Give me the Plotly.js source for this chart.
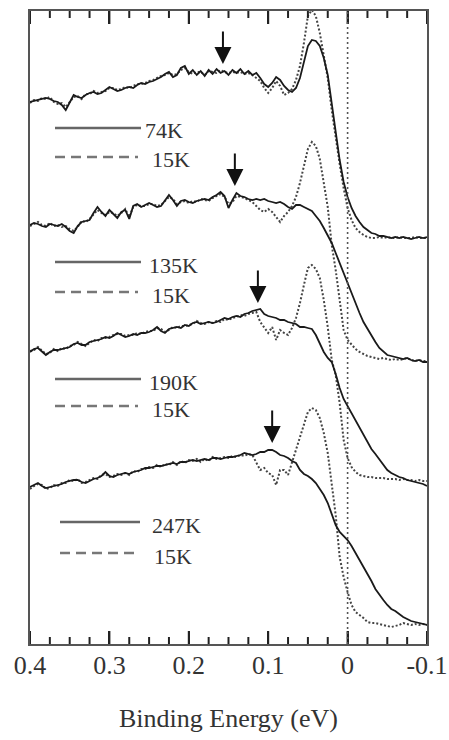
<!DOCTYPE html>
<html>
<head>
<meta charset="utf-8">
<script src="https://cdn.plot.ly/plotly-3.0.1.min.js"></script>
<style>html,body{margin:0;padding:0;background:#fff;}#chart{width:449px;height:740px;}</style>
</head>
<body>
<div id="chart"></div>
<script>
// ---- data ----
const energies = [0.4,0.395,0.39,0.385,0.38,0.375,0.37,0.365,0.36,0.355,0.35,
0.345,0.34,0.335,0.33,0.325,0.32,0.315,0.31,0.305,0.3,
0.295,0.29,0.285,0.28,0.275,0.27,0.265,0.26,0.255,0.25,
0.245,0.24,0.235,0.23,0.225,0.22,0.215,0.21,0.205,0.2,
0.195,0.19,0.185,0.18,0.175,0.17,0.165,0.16,0.155,0.15,
0.145,0.14,0.135,0.13,0.125,0.12,0.115,0.11,0.105,0.1,
0.095,0.09,0.085,0.08,0.075,0.07,0.065,0.06,0.055,0.05,
0.045,0.04,0.035,0.03,0.025,0.02,0.015,0.01,0.005,0,
-0.005,-0.01,-0.015,-0.02,-0.025,-0.03,-0.035,-0.04,-0.045,-0.05,
-0.055,-0.06,-0.065,-0.07,-0.075,-0.08,-0.085,-0.09,-0.095,-0.1];

const hotLabels = ['74K','135K','190K','247K'];
const coldLabel = '15K';
const offsets = [406, 282, 159, 19];
const arrowE = [0.157, 0.142, 0.113, 0.095];
const fermiE = 0;

const hot74 = [136,137,138,139,140,139,137,136,133,128,135,
143,141,140,143,145,146,144,145,148,151,
149,147,148,150,151,150,153,155,154,156,
157,159,161,164,166,161,163,170,172,164,
168,163,167,162,168,164,169,165,167,163,
168,165,169,164,167,163,165,160,154,151,
155,161,158,152,148,146,150,160,176,192,
198,197,192,180,163,133,103,78,56,41,
30,22,16,11,8,5,4,2,2,1,
0,1,0,1,0,-1,0,1,0,1];
const cold74 = [135,138,137,140,139,141,136,134,135,131,136,
141,142,139,144,144,147,145,146,147,150,
150,148,149,151,150,152,154,154,155,157,
158,160,162,163,165,163,164,168,170,166,
164,166,166,163,167,166,165,168,166,165,
166,165,166,164,165,163,160,157,150,145,
150,157,152,143,145,149,158,172,195,222,
228,222,205,183,160,128,100,74,50,30,
18,10,6,3,1,0,0,1,0,1,
0,0,1,0,0,0,1,0,0,0];

const hot135 = [137,139,138,136,135,138,137,136,138,135,131,
129,136,140,141,142,149,155,150,146,152,
148,144,150,152,143,156,158,155,157,159,
157,155,156,162,167,162,156,161,162,160,
159,161,162,163,162,165,167,170,166,154,
162,169,166,165,163,162,163,162,163,161,
160,159,160,158,155,153,157,157,155,153,
151,146,141,134,126,119,109,99,87,78,
67,58,49,40,33,27,20,14,10,7,
6,5,4,3,4,2,1,2,0,0];
const cold135 = [136,138,140,137,136,139,136,137,135,136,133,
131,135,141,140,143,147,152,149,147,150,
149,146,149,153,145,155,157,156,156,158,
158,156,157,161,165,163,158,160,161,159,
161,160,163,162,161,164,166,168,165,158,
160,166,165,164,162,160,156,152,150,153,
150,145,140,146,150,156,165,179,197,213,
220,216,203,180,155,117,92,62,32,22,
17,13,10,8,6,5,4,3,4,3,
2,3,2,3,4,2,1,2,1,1];

const hot190 = [133,136,137,133,130,133,135,135,136,137,138,
141,142,140,140,143,144,145,146,148,147,
149,152,150,148,149,151,150,152,152,153,
155,158,154,152,156,157,158,157,160,159,
162,163,161,162,163,162,163,165,167,166,
168,169,168,171,172,174,175,176,171,169,
168,167,165,165,163,162,161,158,158,157,
156,150,142,133,127,123,111,97,86,79,
72,65,58,51,43,36,31,26,20,15,
12,10,8,7,5,4,3,2,1,-1];
const cold190 = [134,135,138,134,131,132,136,134,137,136,139,
140,143,141,139,142,145,144,147,147,148,
150,151,151,149,150,150,152,151,153,154,
154,157,156,153,155,158,157,159,159,160,
161,164,162,161,163,162,164,163,166,165,
167,168,170,169,171,172,173,163,157,152,
158,145,155,152,150,157,167,182,200,217,
220,216,207,185,158,125,110,82,45,27,
18,13,10,9,8,8,7,7,7,6,
6,6,5,6,5,5,4,5,4,4];

const hot247 = [138,140,142,139,137,138,139,140,141,143,144,
145,145,143,142,144,146,147,149,153,149,
148,150,151,152,151,153,154,155,157,157,
158,159,159,160,161,162,161,163,163,164,
165,164,165,166,165,167,167,166,167,168,
168,169,170,172,171,170,171,173,173,175,
175,173,170,169,167,164,162,155,151,149,
146,142,136,130,122,110,100,93,89,85,
79,72,65,58,52,44,36,30,25,20,
16,14,11,8,6,4,3,2,1,0];
const cold247 = [136,139,141,140,136,137,140,139,142,142,145,
144,146,142,143,145,147,146,150,151,148,
149,151,150,152,150,154,153,156,156,158,
157,160,158,161,160,163,160,164,162,165,
164,166,163,166,164,168,166,167,168,167,
169,168,170,169,171,170,163,155,157,152,
150,140,155,155,150,163,175,188,202,213,
217,215,207,192,172,138,110,68,48,33,
20,13,10,7,3,2,2,1,0,-1,
-2,-1,0,2,1,0,1,0,1,0];

const hotSeries = [hot74, hot135, hot190, hot247];
const coldSeries = [cold74, cold135, cold190, cold247];
const xTickVals = [0.4, 0.3, 0.2, 0.1, 0, -0.1];
const xTickText = ['0.4', '0.3', '0.2', '0.1', '0', '-0.1'];
const xMinorTickVals = [0.375,0.35,0.325,0.275,0.25,0.225,0.175,0.15,0.125,0.075,0.05,0.025,-0.025,-0.05,-0.075];

// ---- layout positions (pixels, converted to paper) ----
const plotL = 30, plotR = 427, plotT = 11, plotB = 644;
const plotH = plotB - plotT;
const yTop = plotH; // y axis spans [0, plotH] so one unit is one pixel
const px = v => (v - plotL) / (plotR - plotL);
const py = v => (plotB - v) / plotH;
const legendPos = [
  {xs:55, xe:141, yh:128, th:143, yc:157, xce:138, tc:150},
  {xs:55, xe:141, yh:262, th:147, yc:292, xce:138, tc:150},
  {xs:55, xe:141, yh:379, th:147, yc:406, xce:138, tc:150},
  {xs:60, xe:140, yh:522, th:150, yc:553, xce:140, tc:152}
];

const serif = '"Liberation Serif", "DejaVu Serif", serif';
const traces = [];
const shapes = [];
const annotations = [];

// inward tick marks drawn as a line trace on the x scale (bottom and top edges)
const tickTrace = (vals, len) => {
  const xs = [], ys = [];
  vals.forEach(v => {
    xs.push(v, v, null, v, v, null);
    ys.push(0, len, null, yTop, yTop - len, null);
  });
  return {x: xs, y: ys, type:'scatter', mode:'lines', line:{color:'#222', width:2},
    hoverinfo:'skip', cliponaxis:false, connectgaps:false};
};

shapes.push({type:'line', xref:'x', yref:'paper', x0:fermiE, x1:fermiE, y0:0, y1:1,
  line:{color:'#555', width:1.6, dash:'2px,3px'}});

for (let i = 0; i < 4; i++) {
  traces.push({x: energies, y: coldSeries[i].map(v => v + offsets[i]), type:'scatter', mode:'lines',
    line:{color:'#444', width:2, dash:'2px,2px'}, hoverinfo:'skip'});
}
for (let i = 0; i < 4; i++) {
  traces.push({x: energies, y: hotSeries[i].map(v => v + offsets[i]), type:'scatter', mode:'lines',
    line:{color:'#1a1a1a', width:1.8}, hoverinfo:'skip'});
  let idx = 0, best = 1e9;
  energies.forEach((e, k) => { const d = Math.abs(e - arrowE[i]); if (d < best) { best = d; idx = k; } });
  annotations.push({x: arrowE[i], y: hotSeries[i][idx] + offsets[i] + 7, xref:'x', yref:'y',
    ax:0, ay:-34, showarrow:true, arrowhead:2, arrowsize:1.7, arrowwidth:2, arrowcolor:'#111', text:''});
  const L = legendPos[i];
  shapes.push({type:'line', xref:'paper', yref:'paper', x0:px(L.xs), x1:px(L.xe), y0:py(L.yh), y1:py(L.yh),
    line:{color:'#666', width:2.5}});
  shapes.push({type:'line', xref:'paper', yref:'paper', x0:px(L.xs), x1:px(L.xce), y0:py(L.yc), y1:py(L.yc),
    line:{color:'#777', width:2.5, dash:'10px,6px'}});
  annotations.push({xref:'paper', yref:'paper', x:px(L.th), y:py(L.yh + 3), xanchor:'left', yanchor:'middle',
    text:hotLabels[i], showarrow:false, font:{family:serif, size:22, color:'#333'}});
  annotations.push({xref:'paper', yref:'paper', x:px(L.tc), y:py(L.yc + 3), xanchor:'left', yanchor:'middle',
    text:coldLabel, showarrow:false, font:{family:serif, size:22, color:'#333'}});
}
traces.push(tickTrace(xTickVals, 13));
traces.push(tickTrace(xMinorTickVals, 7));

const layout = {
  width:449, height:740,
  margin:{l:plotL, r:449 - plotR, t:plotT, b:740 - plotB},
  paper_bgcolor:'#fff', plot_bgcolor:'#fff',
  showlegend:false,
  font:{family:serif},
  xaxis:{range:[0.4, -0.1], tickmode:'array', tickvals:xTickVals, ticktext:xTickText,
    ticks:'inside', ticklen:13, tickwidth:2, tickcolor:'#222',
    showline:true, linecolor:'#555', linewidth:1.5, mirror:'ticks',
    showgrid:false, zeroline:false, automargin:false, ticklabelstandoff:-3,
    tickfont:{family:serif, size:26, color:'#333'},
    title:{text:'Binding Energy (eV)', font:{family:serif, size:26, color:'#333'}, standoff:30}},
  yaxis:{range:[0, yTop], showline:true, linecolor:'#555', linewidth:1.5, mirror:true,
    showticklabels:false, ticks:'', showgrid:false, zeroline:false, automargin:false},
  shapes:shapes, annotations:annotations
};

Plotly.newPlot('chart', traces, layout, {displayModeBar:false});
</script>
</body>
</html>
